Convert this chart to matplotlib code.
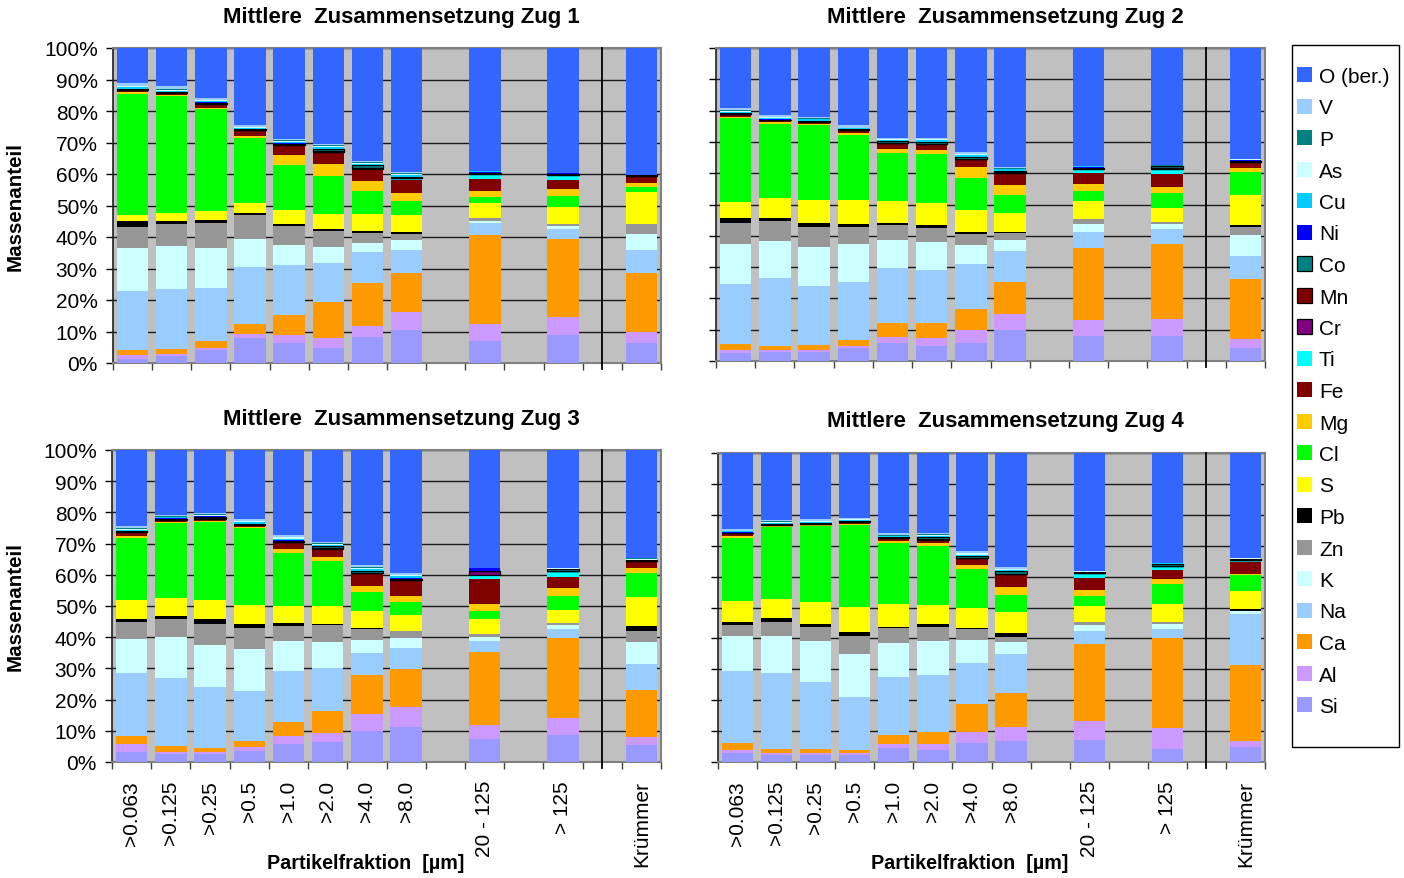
import numpy as np
import matplotlib
matplotlib.use("Agg")
import matplotlib.pyplot as plt
from matplotlib.patches import Rectangle

plt.rcParams['font.family'] = ['Liberation Sans', 'DejaVu Sans']

# Kategorien (Lücken bei 8, 10, 12 wie in der Excel-Vorlage)
positions = [0, 1, 2, 3, 4, 5, 6, 7, 9, 11, 13]
labels = ['>0.063', '>0.125', '>0.25', '>0.5', '>1.0', '>2.0', '>4.0', '>8.0',
          '20 - 125', '> 125', 'Krümmer']

# Massenanteile in %, je Element eine Liste pro Zug (Zug 1..4)
si = [[1.3, 2.2, 4.2, 7.9, 6.4, 4.8, 8.3, 10.5, 7.0, 8.9, 6.4],
      [2.6, 2.9, 2.9, 4.1, 5.7, 4.7, 5.7, 9.8, 7.9, 7.9, 4.1],
      [3.2, 2.6, 2.6, 3.5, 5.8, 6.4, 9.9, 11.2, 7.4, 8.6, 5.4],
      [2.9, 2.3, 2.3, 2.3, 4.5, 3.9, 6.1, 6.8, 7.1, 4.2, 4.8]]
al = [[1.3, 0.7, 0.6, 1.3, 2.5, 3.1, 3.5, 5.7, 5.4, 5.8, 3.5],
      [0.8, 0.5, 0.5, 0.6, 2.0, 2.6, 4.1, 5.1, 5.1, 5.4, 2.8],
      [2.6, 0.6, 0.6, 1.3, 2.5, 2.9, 5.5, 6.4, 4.4, 5.5, 2.6],
      [1.0, 0.6, 0.6, 0.6, 1.3, 1.9, 3.6, 4.5, 6.2, 6.8, 2.0]]
ca = [[1.5, 1.5, 2.2, 3.2, 6.4, 11.5, 13.6, 12.4, 28.3, 24.7, 18.7],
      [1.9, 1.3, 1.7, 1.9, 4.4, 4.8, 6.7, 10.3, 23.1, 24.1, 19.2],
      [2.5, 1.9, 1.3, 1.9, 4.5, 7.0, 12.5, 12.2, 23.4, 25.6, 15.1],
      [2.2, 1.3, 1.3, 1.0, 2.9, 3.9, 9.1, 11.0, 24.8, 29.1, 24.6]]
na = [[18.8, 19.1, 16.8, 18.1, 15.8, 12.4, 9.9, 7.3, 3.8, 3.2, 7.3],
      [19.2, 21.8, 18.8, 18.6, 17.6, 16.9, 14.5, 9.9, 5.1, 4.8, 7.4],
      [20.2, 21.8, 19.5, 16.0, 16.3, 13.8, 7.0, 6.7, 3.5, 2.9, 8.3],
      [23.3, 24.6, 21.7, 17.1, 18.8, 18.4, 13.2, 12.6, 4.2, 2.9, 16.4]]
k = [[13.6, 13.7, 12.7, 8.9, 6.4, 5.1, 2.8, 3.2, 0.6, 0.9, 5.1],
     [12.9, 11.8, 12.5, 12.2, 8.9, 9.0, 6.0, 3.5, 2.6, 1.6, 6.7],
     [10.9, 13.1, 13.5, 13.5, 9.6, 8.3, 4.2, 3.2, 1.3, 1.3, 7.0],
     [11.3, 11.9, 13.2, 13.9, 11.0, 11.0, 7.4, 3.9, 2.0, 1.6, 1.0]]
zn = [[6.7, 7.0, 8.0, 7.6, 6.0, 5.0, 3.2, 1.9, 1.0, 0.7, 3.2],
      [6.7, 6.4, 6.4, 5.4, 4.8, 4.5, 3.6, 2.3, 1.6, 0.6, 2.6],
      [5.4, 5.8, 6.7, 6.7, 4.8, 5.5, 3.5, 2.2, 1.0, 0.6, 3.5],
      [3.6, 4.6, 4.5, 5.8, 4.8, 4.5, 3.6, 1.6, 1.0, 0.7, 0.2]]
pb = [[1.9, 0.9, 0.9, 0.7, 0.7, 0.7, 0.6, 0.6, 0.0, 0.0, 0.0],
      [1.6, 1.0, 1.3, 1.0, 0.7, 0.9, 0.6, 0.3, 0.0, 0.0, 0.6],
      [1.0, 0.9, 1.6, 1.3, 1.0, 0.3, 0.3, 0.0, 0.0, 0.0, 1.6],
      [1.0, 1.3, 1.0, 1.3, 0.3, 1.0, 0.3, 1.3, 0.0, 0.0, 0.5]]
s = [[1.9, 2.6, 2.9, 3.1, 4.4, 4.8, 5.5, 5.4, 4.7, 5.4, 10.2],
     [5.1, 6.4, 7.3, 7.6, 7.0, 7.1, 7.0, 6.1, 5.7, 4.5, 9.6],
     [6.1, 5.8, 6.1, 6.1, 5.4, 5.7, 5.4, 5.2, 4.8, 4.2, 9.3],
     [6.7, 6.1, 7.1, 8.1, 7.5, 6.2, 6.5, 6.8, 5.1, 5.8, 5.8]]
cl = [[38.5, 37.2, 32.4, 20.7, 14.3, 12.0, 7.3, 4.5, 2.0, 3.5, 1.6],
      [26.9, 23.7, 24.1, 20.9, 15.4, 15.7, 10.3, 5.7, 3.2, 4.8, 7.4],
      [19.8, 24.0, 24.9, 24.6, 17.0, 14.5, 6.1, 4.1, 2.5, 4.4, 7.7],
      [20.4, 23.3, 24.6, 26.5, 19.7, 19.0, 12.6, 5.5, 3.3, 6.4, 5.2]]
mg = [[0.5, 0.3, 0.3, 0.6, 3.2, 3.8, 3.1, 2.5, 1.9, 2.2, 1.2],
      [0.4, 0.4, 0.3, 0.4, 1.3, 1.2, 3.5, 3.2, 2.3, 1.9, 1.3],
      [0.7, 0.3, 0.3, 0.3, 1.3, 1.2, 2.0, 1.9, 2.3, 2.6, 1.6],
      [0.7, 0.3, 0.3, 0.4, 0.6, 1.0, 1.3, 2.6, 1.9, 1.7, 0.2]]
fe = [[0.5, 0.3, 1.0, 1.6, 2.9, 3.5, 3.5, 4.2, 3.8, 2.9, 2.2],
      [0.6, 0.5, 0.5, 1.0, 1.6, 1.7, 2.2, 3.6, 3.5, 4.2, 1.6],
      [1.2, 0.7, 0.7, 0.7, 1.9, 2.6, 3.8, 4.9, 8.0, 3.5, 1.9],
      [0.7, 0.3, 0.3, 0.5, 1.0, 1.0, 1.9, 3.9, 3.9, 2.9, 4.0]]
ti = [[0.2, 0.3, 0.2, 0.2, 0.3, 0.3, 0.4, 0.5, 1.6, 1.5, 0.1],
      [0.2, 0.2, 0.2, 0.1, 0.2, 0.2, 0.3, 0.3, 1.3, 1.6, 0.3],
      [0.2, 0.2, 0.2, 0.2, 0.3, 0.2, 0.3, 0.4, 1.3, 2.0, 0.4],
      [0.2, 0.2, 0.2, 0.2, 0.2, 0.2, 0.3, 0.2, 1.6, 1.3, 0.6]]
cr = [[0.05, 0.05, 0.05, 0.05, 0.05, 0.05, 0.05, 0.05, 0.05, 0.05, 0.0],
      [0.05, 0.05, 0.05, 0.05, 0.05, 0.05, 0.05, 0.05, 0.05, 0.05, 0.05],
      [0.05, 0.05, 0.05, 0.05, 0.05, 0.05, 0.05, 0.05, 1.2, 0.05, 0.05],
      [0.05, 0.05, 0.05, 0.05, 0.05, 0.05, 0.05, 0.05, 0.05, 0.05, 0.05]]
mn = [[0.1, 0.1, 0.1, 0.1, 0.1, 0.1, 0.1, 0.1, 0.1, 0.1, 0.1],
      [0.1, 0.1, 0.1, 0.1, 0.1, 0.1, 0.1, 0.1, 0.1, 0.1, 0.1],
      [0.1, 0.1, 0.1, 0.1, 0.1, 0.1, 0.1, 0.1, 0.1, 0.1, 0.1],
      [0.1, 0.1, 0.1, 0.1, 0.1, 0.1, 0.1, 0.1, 0.1, 0.1, 0.1]]
co = [[0.1, 0.1, 0.3, 0.1, 0.1, 0.8, 0.9, 0.3, 0.1, 0.1, 0.1],
      [0.1, 0.1, 0.1, 0.1, 0.6, 0.6, 0.6, 0.4, 0.1, 0.6, 0.3],
      [0.1, 0.1, 0.5, 0.1, 0.4, 0.6, 0.6, 0.1, 0.1, 0.5, 0.1],
      [0.1, 0.1, 0.1, 0.1, 0.1, 0.6, 0.6, 0.9, 0.3, 0.6, 0.3]]
ni = [[0.05, 0.05, 0.05, 0.05, 0.15, 0.05, 0.05, 0.05, 0.4, 0.3, 0.0],
      [0.05, 0.05, 0.05, 0.05, 0.05, 0.05, 0.05, 0.05, 0.4, 0.1, 0.05],
      [0.05, 0.15, 0.05, 0.05, 0.05, 0.05, 0.05, 0.4, 0.8, 0.05, 0.05],
      [0.05, 0.05, 0.05, 0.05, 0.05, 0.05, 0.05, 0.05, 0.05, 0.05, 0.05]]
cu = [[0.6, 0.4, 0.5, 0.4, 0.5, 0.5, 0.4, 0.6, 0.1, 0.05, 0.0],
      [0.5, 0.4, 0.4, 0.2, 0.3, 0.4, 0.4, 0.5, 0.1, 0.1, 0.2],
      [0.3, 0.3, 0.3, 0.5, 0.6, 0.4, 0.5, 0.5, 0.1, 0.1, 0.2],
      [0.3, 0.4, 0.3, 0.4, 0.2, 0.4, 0.4, 0.3, 0.05, 0.05, 0.05]]
as_ = [[0.3, 0.3, 0.2, 0.3, 0.3, 0.3, 0.3, 0.3, 0.05, 0.05, 0.0],
       [0.3, 0.3, 0.2, 0.2, 0.2, 0.3, 0.3, 0.3, 0.05, 0.1, 0.1],
       [0.4, 0.2, 0.2, 0.3, 0.4, 0.3, 0.4, 0.3, 0.05, 0.05, 0.3],
       [0.2, 0.3, 0.2, 0.2, 0.2, 0.3, 0.4, 0.3, 0.05, 0.05, 0.05]]
p = [[0.1, 0.1, 0.2, 0.1, 0.2, 0.3, 0.3, 0.2, 0.05, 0.05, 0.0],
     [0.1, 0.1, 0.1, 0.1, 0.1, 0.1, 0.2, 0.2, 0.05, 0.1, 0.2],
     [0.1, 0.1, 0.2, 0.1, 0.2, 0.2, 0.3, 0.2, 0.05, 0.05, 0.1],
     [0.1, 0.1, 0.1, 0.1, 0.1, 0.2, 0.2, 0.1, 0.0, 0.0, 0.0]]
v = [[1.0, 1.1, 0.5, 0.6, 0.5, 0.5, 0.4, 0.4, 0.05, 0.0, 0.0],
     [0.8, 0.7, 0.6, 0.9, 0.2, 0.4, 0.5, 0.4, 0.05, 0.05, 0.0],
     [0.7, 0.4, 0.3, 0.7, 0.5, 0.3, 0.6, 0.45, 0.0, 0.0, 0.0],
     [0.6, 0.3, 0.6, 0.2, 0.6, 0.3, 0.5, 0.5, 0.0, 0.0, 0.0]]
o = [[11.0, 12.0, 15.9, 24.4, 28.8, 30.4, 35.8, 39.3, 39.0, 39.6, 40.3],
     [19.1, 21.3, 21.9, 24.5, 28.8, 28.7, 33.3, 37.9, 37.7, 37.4, 35.4],
     [24.4, 20.9, 20.3, 22.0, 27.3, 29.6, 36.9, 39.5, 37.7, 37.9, 34.7],
     [24.5, 21.8, 21.4, 21.1, 26.0, 26.0, 31.8, 37.0, 38.3, 35.7, 34.1]]

# Stapelreihenfolge von unten nach oben: (Name, Daten, Farbe, Rand)
series = [
    ('Si', si, '#9999FF', None),
    ('Al', al, '#CC99FF', None),
    ('Ca', ca, '#FF9900', None),
    ('Na', na, '#99CCFF', None),
    ('K', k, '#CCFFFF', None),
    ('Zn', zn, '#969696', None),
    ('Pb', pb, '#000000', None),
    ('S', s, '#FFFF00', None),
    ('Cl', cl, '#00FF00', None),
    ('Mg', mg, '#FFCC00', None),
    ('Fe', fe, '#800000', None),
    ('Ti', ti, '#00FFFF', None),
    ('Cr', cr, '#800080', 'black'),
    ('Mn', mn, '#800000', 'black'),
    ('Co', co, '#008080', 'black'),
    ('Ni', ni, '#0000FF', None),
    ('Cu', cu, '#00CCFF', None),
    ('As', as_, '#CCFFFF', None),
    ('P', p, '#008080', None),
    ('V', v, '#99CCFF', None),
    ('O (ber.)', o, '#3366FF', None),
]

W, H = 1404, 879
fig = plt.figure(figsize=(W / 100, H / 100), dpi=100)

# Achsen in Pixeln: links, oben, rechts, unten
boxes = [(113, 49, 661, 364), (716, 49, 1265, 362),
         (112, 451, 661, 763), (718, 454, 1265, 763)]
titles = [(401, 18), (1005, 18), (401, 419), (1005, 422)]
FS = 15.0


def draw_zug(ax, z):
    vals = np.array([sr[1][z] for sr in series], dtype=float)
    vals = vals / vals.sum(axis=0) * 100  # 100%-gestapelt
    bottom = np.zeros(len(positions))
    handles = []
    for i, (name, _, col, edge) in enumerate(series):
        b = ax.bar(positions, vals[i], 0.8, bottom=bottom, color=col,
                   edgecolor=edge if edge else col,
                   linewidth=0.9 if edge else 0, label=name, zorder=3)
        handles.append(b)
        bottom += vals[i]
    ax.axvline(12, color='black', lw=1.3, zorder=4, ymin=-0.02, clip_on=False)
    ax.set_xlim(-0.5, 13.5)
    ax.set_ylim(0, 100)
    ax.set_facecolor('#C0C0C0')
    ax.set_yticks(np.arange(0, 101, 10))
    ax.yaxis.grid(True, color='#1a1a1a', lw=1.0, zorder=1)
    ax.set_axisbelow(True)
    ax.set_xticks(positions)
    ax.set_xticks(np.arange(-0.5, 14, 1), minor=True)
    ax.tick_params(axis='x', which='major', length=0, pad=13)
    ax.tick_params(axis='x', which='minor', length=5, width=1, color='#404040')
    ax.tick_params(axis='y', length=5, width=1, pad=6, labelsize=FS)
    for sp in ('top', 'right', 'bottom'):
        ax.spines[sp].set_color('#808080')
        ax.spines[sp].set_linewidth(1.5)
    ax.spines['left'].set_color('#202020')
    ax.spines['left'].set_linewidth(1.2)
    return handles


handles = None
for z, (l, t, r, b) in enumerate(boxes):
    ax = fig.add_axes([l / W, 1 - b / H, (r - l) / W, (b - t) / H])
    handles = draw_zug(ax, z)
    if z in (0, 2):
        ax.set_yticklabels([f'{v}%' for v in range(0, 101, 10)])
        ax.set_ylabel('Massenanteil', fontsize=14.8, fontweight='bold')
        ax.yaxis.set_label_coords(-(l - 25) / (r - l), 0.5)
    else:
        ax.set_yticklabels([])
    if z in (2, 3):
        ax.set_xticklabels(labels, rotation=90, va='top', ha='center', fontsize=FS)
    else:
        ax.set_xticklabels([])
    tx, ty = titles[z]
    fig.text(tx / W, 1 - ty / H, f'Mittlere  Zusammensetzung Zug {z + 1}',
             ha='center', va='center', fontsize=16, fontweight='bold')

for cx in (366, 970):
    fig.text(cx / W, 1 - 864 / H, 'Partikelfraktion  [µm]', ha='center',
             va='center', fontsize=14.2, fontweight='bold')

# Legende mit eigenem Rahmen
fig.patches.append(Rectangle((1292 / W, 1 - 748 / H), 107 / W, 702 / H,
                             transform=fig.transFigure, fill=False,
                             edgecolor='black', lw=1))
fig.legend(handles[::-1], [sr[0] for sr in series][::-1], loc='upper left',
           bbox_to_anchor=(1297 / W, 1 - 68 / H), frameon=False,
           fontsize=15, handlelength=0.7, handleheight=0.7,
           handletextpad=0.35, labelspacing=0.6, borderaxespad=0, borderpad=0)

fig.savefig('out.png', dpi=100)
